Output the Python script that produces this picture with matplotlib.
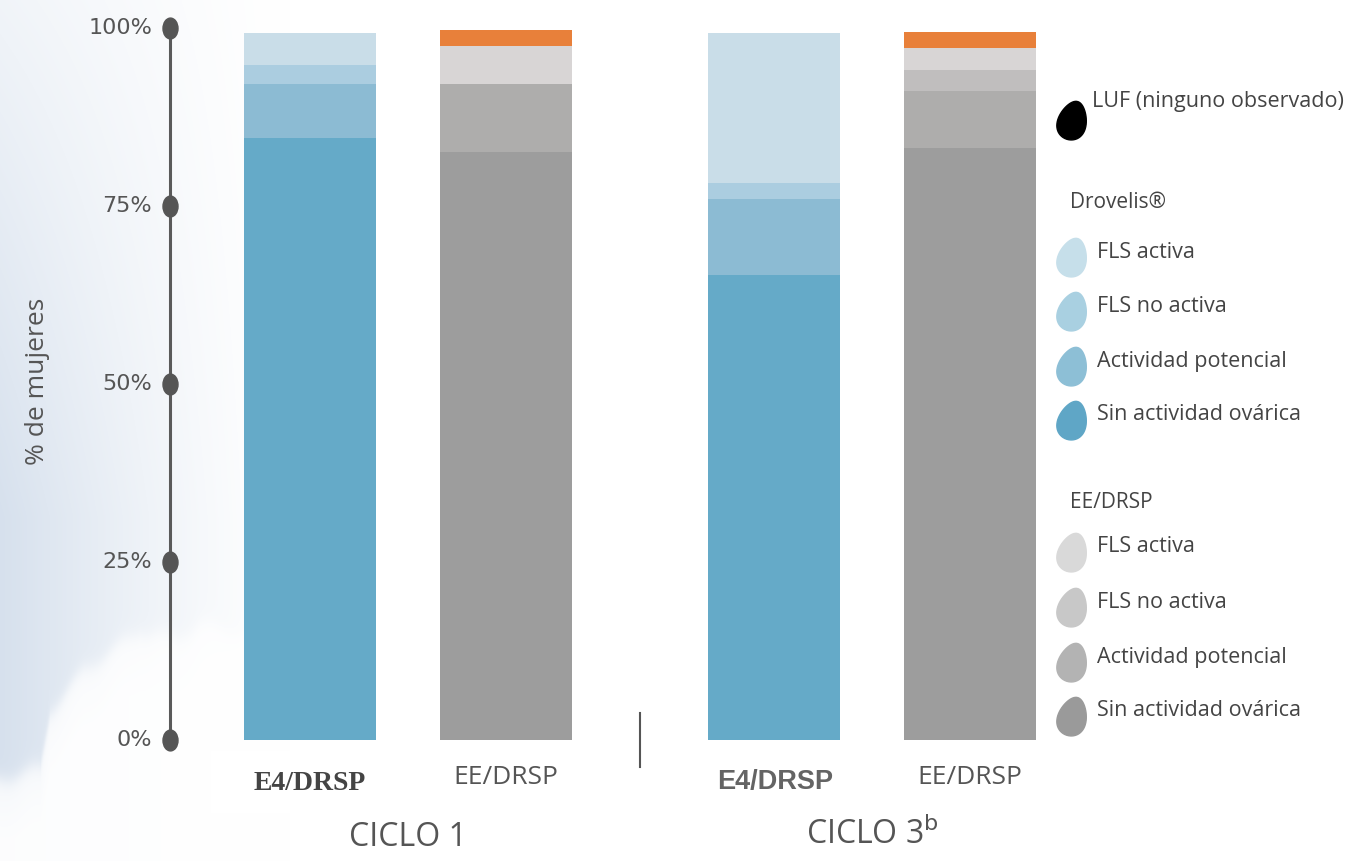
import numpy as np
import matplotlib
matplotlib.use("Agg")
import matplotlib.pyplot as plt
from matplotlib.path import Path

# ---- data (percent of women) ----
groups = ["CICLO 1", "CICLO 3"]
treatments = ["E4/DRSP", "EE/DRSP"]
categories = ["Sin actividad ovárica", "Actividad potencial", "FLS no activa", "FLS activa", "LUF"]

# stacked from the bottom: sin actividad, actividad potencial, FLS no activa, FLS activa, LUF
e4_ciclo1 = [84.6, 7.5, 2.7, 4.5, 0.0]
ee_ciclo1 = [82.6, 9.5, 0.0, 5.4, 2.2]
e4_ciclo3 = [65.3, 10.7, 2.3, 21.0, 0.0]
ee_ciclo3 = [83.1, 8.1, 2.9, 3.1, 2.3]

yticks = [0, 25, 50, 75, 100]
ytick_labels = ["0%", "25%", "50%", "75%", "100%"]

blue_colors = ["#65aac8", "#8cbbd3", "#abcde0", "#c9dde8", "#e8803a"]
grey_colors = ["#9d9d9d", "#aeadac", "#c0bebe", "#d8d5d5", "#e8803a"]
legend_blue = ["#c6dfea", "#a9d0e1", "#8dbfd6", "#5fa6c6"]
legend_grey = ["#d9d9d9", "#c8c8c8", "#b3b3b3", "#9a9a9a"]

TXT = "#555555"
FONT = "Open Sans"

W, H = 1359, 861
fig = plt.figure(figsize=(W / 100, H / 100), dpi=100)

# ---- soft background: blue-grey wash on the left with a pale cloud ----
bg = fig.add_axes([0, 0, 1, 1])
bg.set_axis_off()
xx, yy = np.meshgrid(np.arange(W), np.arange(H))
fade = np.clip(1 - xx / 290.0, 0, 1) ** 1.3
fade *= 0.35 + 0.65 * np.clip(yy / (0.6 * H), 0, 1)
base = np.array([0.84, 0.88, 0.93])
img = 1 - (1 - base)[None, None, :] * fade[..., None]

# cloud silhouette: bumpy upper edge, filled below
edge_x = [0, 40, 50, 83, 110, 140, 157, 177, 200, 227, 260, 320]
edge_y = [778, 767, 710, 670, 650, 630, 633, 637, 623, 627, 640, 660]
cols_x = np.arange(W)
edge = np.interp(cols_x, edge_x, edge_y) + 4 * np.sin(cols_x / 7.0)
cloud = 1 / (1 + np.exp(-(yy - edge[None, :]) / 5.0))
cloud *= 0.85 + 0.15 * np.clip((yy - edge[None, :]) / 60, 0, 1)
img = img + (1 - img) * cloud[..., None] * 0.93
bg.imshow(img, extent=[0, W, H, 0], aspect="auto", interpolation="bilinear")
bg.set_xlim(0, W)
bg.set_ylim(H, 0)

# ---- main axes: x in pixel-like units starting at the axis line ----
ax_left_px, ax_right_px = 170, 1050
y0_px, y100_px = 740, 28
ax = fig.add_axes([ax_left_px / W, (H - y0_px) / H,
                   (ax_right_px - ax_left_px) / W, (y0_px - y100_px) / H])
ax.set_xlim(0, ax_right_px - ax_left_px)
ax.set_ylim(0, 100)
ax.set_axis_off()
ax.patch.set_alpha(0)

group_centers = [238, 702]
offset = 98
bar_w = 132
series = [(e4_ciclo1, blue_colors), (ee_ciclo1, grey_colors),
          (e4_ciclo3, blue_colors), (ee_ciclo3, grey_colors)]
positions = [g + s * offset for g in group_centers for s in (-1, 1)]

for x, (vals, cols) in zip(positions, series):
    bottom = 0.0
    for v, c in zip(vals, cols):
        if v > 0:
            ax.bar(x, v, width=bar_w, bottom=bottom, color=c, linewidth=0)
        bottom += v

# axis spine with rounded tick markers
drop = Path.unit_circle()
drop = Path(drop.vertices * np.array([0.72, 1.0]), drop.codes)
ax.plot([0, 0], [0, 100], color="#5a5a5a", lw=2.2, clip_on=False, solid_capstyle="butt")
ax.plot([0] * len(yticks), yticks, linestyle="none", marker=drop, markersize=15,
        color="#555555", clip_on=False)
for t, lab in zip(yticks, ytick_labels):
    ax.text(-18, t, lab, ha="right", va="center", fontsize=16, color=TXT,
            family="DejaVu Sans", clip_on=False)

fig.text(38 / W, (H - 381) / H, "% de mujeres", rotation=90, ha="center", va="center",
         fontsize=19, color=TXT, family=FONT)

# separator between cycles
sep_x = (positions[1] + positions[2]) / 2
fig.add_artist(plt.Line2D([(ax_left_px + sep_x) / W] * 2, [(H - 713) / H, (H - 767) / H],
                          color="#555555", lw=1.5))

# treatment labels
px = lambda i: (ax_left_px + positions[i]) / W
fig.patches.append(matplotlib.patches.Rectangle((211 / W, (H - 813) / H), 171 / W, 62 / H,
                                                transform=fig.transFigure,
                                                facecolor="white", edgecolor="none"))
fig.text(px(0), (H - 783) / H, treatments[0], ha="center", va="center", fontsize=20,
         weight="bold", color="#444444", family="Liberation Serif")
fig.text(px(1), (H - 777) / H, treatments[1], ha="center", va="center", fontsize=19,
         color=TXT, family=FONT)
fig.text(px(2) + 1 / W, (H - 782) / H, treatments[0], ha="center", va="center", fontsize=19.5,
         weight="bold", color="#646464", family="Liberation Sans")
fig.text(px(3), (H - 777) / H, treatments[1], ha="center", va="center", fontsize=19,
         color=TXT, family=FONT)

# cycle labels
fig.text((ax_left_px + (positions[0] + positions[1]) / 2) / W, (H - 838) / H, groups[0],
         ha="center", va="center", fontsize=23, color=TXT, family=FONT)
fig.text((ax_left_px + (positions[2] + positions[3]) / 2) / W, (H - 835) / H,
         groups[1] + r"$^{\mathrm{b}}$", ha="center", va="center", fontsize=23, color=TXT,
         family=FONT)

# ---- legend with leaf-shaped swatches ----
t = np.linspace(0, 2 * np.pi, 60)
leaf_v = np.column_stack([0.72 * np.sin(t) * (1 - 0.22 * np.cos(t)), np.cos(t)])
rot = np.deg2rad(-15)
R = np.array([[np.cos(rot), -np.sin(rot)], [np.sin(rot), np.cos(rot)]])
leaf = Path(leaf_v @ R.T)

leg = fig.add_axes([0, 0, 1, 1])
leg.set_axis_off()
leg.patch.set_alpha(0)
leg.set_xlim(0, W)
leg.set_ylim(H, 0)

mx, tx = 1072, 1097
leg.plot(mx, 120, marker=leaf, markersize=28, color="black", linestyle="none")
leg.text(tx - 5, 101, "LUF (ninguno observado)", fontsize=15.5, color="#444444",
         va="center", family=FONT)

leg_names = ["FLS activa", "FLS no activa", "Actividad potencial", "Sin actividad ovárica"]
blocks = [("Drovelis®", 203, [257, 311, 366, 420], legend_blue),
          ("EE/DRSP", 503, [552, 607, 662, 716], legend_grey)]
for title, ty, ys, cols in blocks:
    leg.text(tx - 27, ty, title, fontsize=15, color="#444444", va="center", family=FONT)
    for y, c, name in zip(ys, cols, leg_names):
        leg.plot(mx, y, marker=leaf, markersize=28, color=c, linestyle="none")
        leg.text(tx, y - 5, name, fontsize=15.5, color="#444444", va="center", family=FONT)

fig.savefig("out.png", dpi=100)
